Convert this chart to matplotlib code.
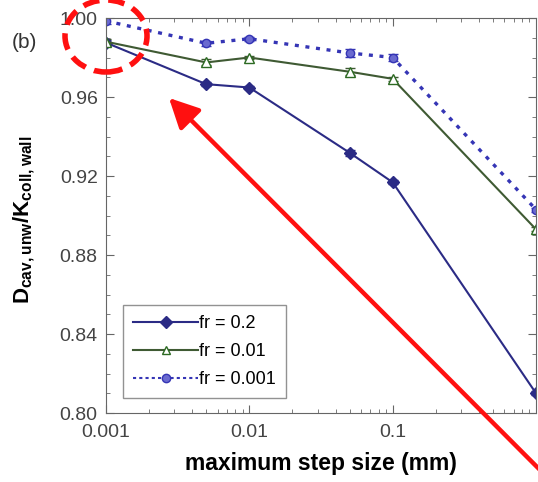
import matplotlib.pyplot as plt
from matplotlib.lines import Line2D
from matplotlib.patches import Ellipse, FancyArrowPatch

plt.rcParams['font.family'] = ['Liberation Sans', 'DejaVu Sans']
plt.rcParams['mathtext.fontset'] = 'custom'
plt.rcParams['mathtext.rm'] = 'Liberation Sans'
plt.rcParams['mathtext.bf'] = 'Liberation Sans:bold'

# maximum step size (mm)
step = [0.001, 0.005, 0.01, 0.05, 0.1, 1.0]

# D_cav,unw / K_coll,wall
fr_02 = [0.9875, 0.9665, 0.9648, 0.9318, 0.9168, 0.810]
fr_001 = [0.9880, 0.9775, 0.9800, 0.9728, 0.9692, 0.893]
fr_0001 = [0.9985, 0.9872, 0.9895, 0.9823, 0.9800, 0.903]

err_02 = [0.0015, 0.001, 0.001, 0.0015, 0.001, 0.001]
err_001 = [0.0015, 0.0015, 0.001, 0.0018, 0.001, 0.001]
err_0001 = [0.0015, 0.0012, 0.001, 0.0018, 0.0018, 0.001]

labels = ['fr = 0.2', 'fr = 0.01', 'fr = 0.001']

c1, c2, c3 = '#2b2b85', '#3f5a33', '#3535b5'

fig = plt.figure(figsize=(5.38, 4.82), dpi=100)
ax = fig.add_axes([106/538, 69/482, 430/538, 395/482])

ax.errorbar(step, fr_02, yerr=err_02, color=c1, marker='D', ms=6,
            lw=1.5, capsize=3.5, elinewidth=1.5)
ax.errorbar(step, fr_001, yerr=err_001, color=c2, marker='^', ms=7,
            mfc='white', mec='#2c6a22', lw=1.5, capsize=3.5, elinewidth=1.5)
ax.errorbar(step, fr_0001, yerr=err_0001, color=c3, marker='o', ms=6,
            mfc='#6a6ad0', ls=(0, (1.2, 2.0)), lw=2.4, capsize=3.5, elinewidth=1.5)

ax.set_xscale('log')
ax.set_xlim(0.001, 1)
ax.set_ylim(0.80, 1.00)
ax.set_yticks([0.80, 0.84, 0.88, 0.92, 0.96, 1.00])
ax.set_yticklabels(['0.80', '0.84', '0.88', '0.92', '0.96', '1.00'])
ax.set_xticks([0.001, 0.01, 0.1])
ax.set_xticklabels(['0.001', '0.01', '0.1'])
ax.yaxis.set_minor_locator(plt.MultipleLocator(0.01))
ax.tick_params(which='both', direction='in', top=True, right=True,
               labelsize=14, colors='#666666', labelcolor='#444444')
ax.tick_params(axis='x', pad=8)
ax.tick_params(axis='y', pad=6)
ax.tick_params(which='major', length=6)
ax.tick_params(which='minor', length=3)
for s in ax.spines.values():
    s.set_color('#666666')

ax.set_xlabel('maximum step size (mm)', fontsize=16.5, fontweight='bold', labelpad=8)
ax.set_ylabel(r'D$_{\mathbf{cav,unw}}$/K$_{\mathbf{coll,wall}}$', fontsize=16,
              fontweight='bold')
ax.yaxis.set_label_coords(-0.16, 0.49)

handles = [
    Line2D([], [], color=c1, marker='D', ms=6, lw=1.5),
    Line2D([], [], color=c2, marker='^', ms=6, mfc='white', mec='#2c6a22', lw=1.5),
    Line2D([], [], color=c3, marker='o', ms=6, mfc='#6a6ad0', ls=(0, (1.5, 1.5)), lw=1.5),
]
ax.legend(handles, labels, loc='lower left', bbox_to_anchor=(0.04, 0.038), fontsize=13,
          frameon=True, fancybox=False, edgecolor='#777777', handlelength=3.6,
          handletextpad=0.05, borderpad=0.55, labelspacing=0.6, borderaxespad=0)

fig.text(12/538, 1 - 48/482, '(b)', fontsize=15, color='#333333')

# red annotations
fig.add_artist(Ellipse((106/538, 1 - 36/482), 82/538, 72/482, transform=fig.transFigure,
                       fill=False, ec='#ff1010', lw=4, ls=(0, (3, 1.6))))
fig.add_artist(FancyArrowPatch((567/538, -15/482), (167/538, 1 - 96/482),
                               transform=fig.transFigure, arrowstyle='-|>,head_length=12,head_width=6',
                               color='#ff1010', lw=3.2, mutation_scale=1.5))

fig.savefig('out.png', dpi=100)
